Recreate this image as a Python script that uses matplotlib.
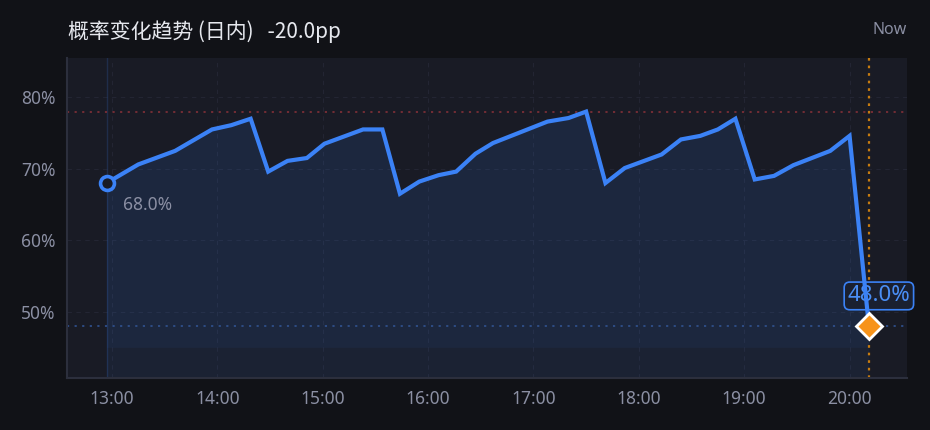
import numpy as np
import pandas as pd
import matplotlib
matplotlib.use("Agg")
import matplotlib.pyplot as plt
import matplotlib.dates as mdates

plt.rcParams['font.family'] = ['Noto Sans CJK SC', 'DejaVu Sans']

# intraday probability series
times = ["12:57", "13:15", "13:36", "13:57", "14:08", "14:19", "14:29", "14:40",
         "14:51", "15:01", "15:23", "15:34", "15:44", "15:55", "16:06", "16:16",
         "16:27", "16:37", "17:08", "17:20", "17:30", "17:41", "17:52", "18:13",
         "18:24", "18:35", "18:45", "18:55", "19:06", "19:17", "19:28", "19:49",
         "20:00", "20:11"]
probs = [68.0, 70.6, 72.5, 75.5, 76.1, 77.0, 69.6, 71.1,
         71.5, 73.5, 75.5, 75.5, 66.5, 68.2, 69.1, 69.6,
         72.1, 73.6, 76.6, 77.1, 78.0, 68.0, 70.1, 72.0,
         74.1, 74.6, 75.5, 77.0, 68.5, 69.0, 70.5, 72.5,
         74.6, 48.0]
hour_ticks = ["13:00", "14:00", "15:00", "16:00", "17:00", "18:00", "19:00", "20:00"]
y_ticks = [50, 60, 70, 80]

day = "2024-01-01 "
t = pd.to_datetime([day + s for s in times])
p = np.array(probs)
tx = mdates.date2num(t)

BG = "#111217"
PANEL = "#191b25"
BLUE = "#3b82f6"
GRAY = "#8b8fa3"
LATIN = ['Noto Sans', 'DejaVu Sans']

fig = plt.figure(figsize=(9.3, 4.3), dpi=100, facecolor=BG)
ax = fig.add_axes([67/930, 1-378/430, 840/930, 320/430])
ax.set_facecolor(PANEL)

span = tx[-1] - tx[0]
ax.set_xlim(tx[0] - 0.052*span, tx[-1] + 0.05*span)
lo, hi = p.min(), p.max()
ax.set_ylim(lo - 0.243*(hi-lo), hi + 0.25*(hi-lo))

# area under the line
base = lo - 0.1*(hi-lo)
ax.fill_between(tx, p, ax.get_ylim()[0], color=BLUE, alpha=0.07, lw=0, zorder=1)
ax.fill_between(tx, p, base, color=BLUE, alpha=0.06, lw=0, zorder=1)
ax.axvline(tx[0], color=BLUE, alpha=0.18, lw=1, zorder=1)

# max / min / now reference lines
ax.axhline(hi, color="#7a2e36", lw=1.3, ls=(0, (1.2, 3)), zorder=2)
ax.axhline(lo, color="#2f4f8a", lw=1.3, ls=(0, (1.2, 3)), zorder=2)
ax.axvline(tx[-1], color="#c77c10", lw=1.6, ls=(0, (1.2, 2.2)), zorder=2)

ax.plot(tx, p, color=BLUE, lw=3, solid_joinstyle='miter', zorder=4)
ax.plot(tx[0], p[0], 'o', ms=10, mfc=PANEL, mec=BLUE, mew=2.6, zorder=5)
ax.plot(tx[-1], p[-1], 'D', ms=13, mfc="#f7931a", mec="white", mew=2, zorder=6)

ax.annotate(f"{p[0]:.1f}%", (tx[0], p[0]), xytext=(16, -22), textcoords='offset pixels',
            ha='left', va='center', color=GRAY, fontsize=12.5, family=LATIN)
ax.annotate(f"{p[-1]:.1f}%", (tx[-1], p[-1]), xytext=(10, 30), textcoords='offset pixels',
            ha='center', va='center', color="#4a8ef5", fontsize=16, family=LATIN,
            annotation_clip=False, zorder=3,
            bbox=dict(boxstyle='round,pad=0.15,rounding_size=0.25', fc="#1a2030", ec=BLUE, lw=1.2))

ax.set_xticks(mdates.date2num(pd.to_datetime([day + s for s in hour_ticks])))
ax.xaxis.set_major_formatter(mdates.DateFormatter("%H:%M"))
ax.set_yticks(y_ticks)
ax.set_yticklabels([f"{v}%" for v in y_ticks])
ax.tick_params(length=0, colors=GRAY, labelsize=12.5)
ax.tick_params(axis='x', pad=9)
ax.tick_params(axis='y', pad=8)
for lab in ax.get_xticklabels() + ax.get_yticklabels():
    lab.set_family(LATIN)

ax.grid(True, color="#232533", lw=0.8, ls=(0, (4, 4)), zorder=0)
ax.set_axisbelow(True)
for side in ['top', 'right']:
    ax.spines[side].set_visible(False)
for side in ['left', 'bottom']:
    ax.spines[side].set_color("#2c2f3d")
    ax.spines[side].set_linewidth(1.5)

fig.text(68/930, 1-32/430, "概率变化趋势 (日内)   -20.0pp", color="#e6e8ee",
         fontsize=15, va='center', ha='left')
fig.text(907/930, 1-30/430, "Now", color=GRAY, fontsize=11.5, va='center', ha='right',
         family=LATIN)

fig.savefig("out.png", dpi=100, facecolor=BG)
